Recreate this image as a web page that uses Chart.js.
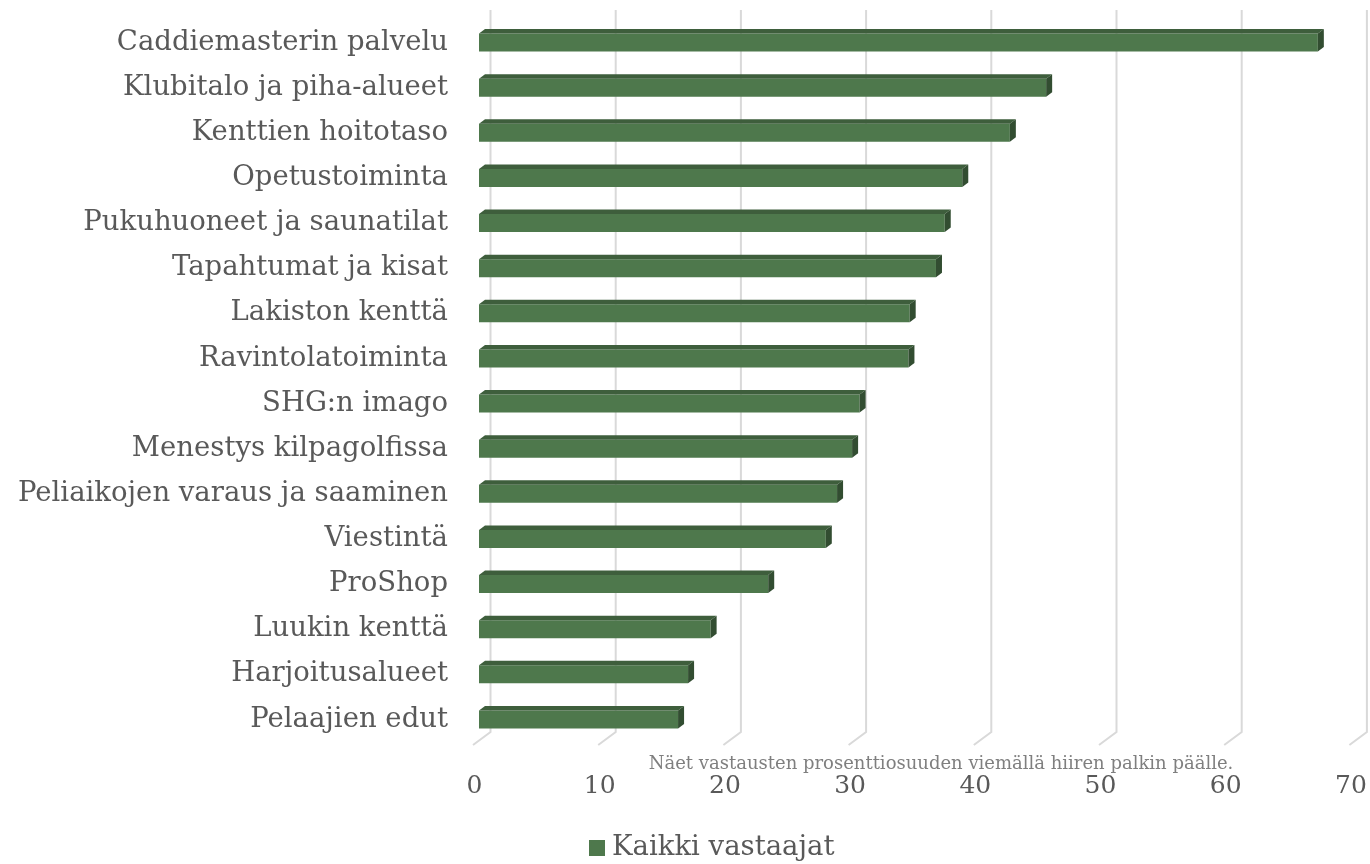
<!DOCTYPE html>
<html lang="fi">
<head>
<meta charset="utf-8">
<title>Kaikki vastaajat</title>
<script src="https://cdn.jsdelivr.net/npm/chart.js@4.4.1/dist/chart.umd.min.js"></script>
<style>
  html, body { margin: 0; padding: 0; background: #ffffff; }
  #wrap { width: 1370px; height: 864px; }
</style>
</head>
<body>
<div id="wrap"><canvas id="chart" width="1370" height="864"></canvas></div>
<script>
// Kategoriat ja arvot (luettu kuvasta)
const categories = [
    'Caddiemasterin palvelu',
    'Klubitalo ja piha-alueet',
    'Kenttien hoitotaso',
    'Opetustoiminta',
    'Pukuhuoneet ja saunatilat',
    'Tapahtumat ja kisat',
    'Lakiston kenttä',
    'Ravintolatoiminta',
    'SHG:n imago',
    'Menestys kilpagolfissa',
    'Peliaikojen varaus ja saaminen',
    'Viestintä',
    'ProShop',
    'Luukin kenttä',
    'Harjoitusalueet',
    'Pelaajien edut'
];
const values = [67.0, 45.3, 42.4, 38.6, 37.2, 36.5, 34.4, 34.3, 30.4, 29.8, 28.6, 27.7, 23.1, 18.5, 16.7, 15.9];
const seriesLabel = 'Kaikki vastaajat';
const xTicks = [0, 10, 20, 30, 40, 50, 60, 70];
const noteText = 'Näet vastausten prosenttiosuuden viemällä hiiren palkin päälle.';

const FONT = "'DejaVu Serif', Georgia, serif";
const TEXT_COLOR = '#595959';
const FRONT = '#4e784c';
const TOP = '#3e5e3c';
const SIDE = '#324d31';
const GRID = '#d9d9d9';

// Pseudo-3D: taustaseinän ruudukko + lattian viisto
const gridPlugin = {
    id: 'grid3d',
    beforeDatasetsDraw(chart) {
        const { ctx, chartArea, scales } = chart;
        ctx.save();
        ctx.strokeStyle = GRID;
        ctx.lineWidth = 2;
        xTicks.forEach(v => {
            const px = scales.x.getPixelForValue(v);
            ctx.beginPath();
            ctx.moveTo(px + 11.5, chartArea.top - 10);
            ctx.lineTo(px + 11.5, chartArea.bottom - 10);
            ctx.lineTo(px - 6, chartArea.bottom + 3);
            ctx.stroke();
        });
        ctx.restore();
    }
};

// Palkkien ylä- ja sivupinnat
const barFacesPlugin = {
    id: 'barFaces',
    afterDatasetsDraw(chart) {
        const { ctx } = chart;
        const meta = chart.getDatasetMeta(0);
        const dx = 6, dy = 4.5;
        ctx.save();
        meta.data.forEach(bar => {
            const p = bar.getProps(['x', 'y', 'base', 'height'], true);
            const top = p.y - p.height / 2;
            const bottom = p.y + p.height / 2;
            // yläpinta
            ctx.fillStyle = TOP;
            ctx.beginPath();
            ctx.moveTo(p.base, top);
            ctx.lineTo(p.base + dx, top - dy);
            ctx.lineTo(p.x + dx, top - dy);
            ctx.lineTo(p.x, top);
            ctx.closePath();
            ctx.fill();
            // sivupinta
            ctx.fillStyle = SIDE;
            ctx.beginPath();
            ctx.moveTo(p.x, top);
            ctx.lineTo(p.x + dx, top - dy);
            ctx.lineTo(p.x + dx, bottom - dy);
            ctx.lineTo(p.x, bottom);
            ctx.closePath();
            ctx.fill();
        });
        ctx.restore();
    },
    afterDraw(chart) {
        const { ctx } = chart;
        ctx.save();
        // huomautusteksti
        ctx.fillStyle = '#7f7f7f';
        ctx.font = '18px ' + FONT;
        ctx.textAlign = 'center';
        ctx.textBaseline = 'alphabetic';
        ctx.fillText(noteText, 941, 769);
        // selite
        ctx.fillStyle = FRONT;
        ctx.fillRect(589, 840, 16, 16);
        ctx.fillStyle = TEXT_COLOR;
        ctx.font = '27.5px ' + FONT;
        ctx.textAlign = 'left';
        ctx.textBaseline = 'middle';
        ctx.fillText(seriesLabel, 612, 848);
        ctx.restore();
    }
};

const ctx = document.getElementById('chart').getContext('2d');
new Chart(ctx, {
    type: 'bar',
    data: {
        labels: categories,
        datasets: [
            {
                label: seriesLabel,
                data: values,
                backgroundColor: FRONT,
                borderWidth: 0,
                categoryPercentage: 1,
                barPercentage: 0.4
            }
        ]
    },
    options: {
        indexAxis: 'y',
        responsive: false,
        animation: false,
        layout: {
            padding: { top: 20, right: 14.6, bottom: 0, left: 0 }
        },
        scales: {
            x: {
                min: 0,
                max: 70,
                grid: { display: false, drawTicks: false },
                border: { display: false },
                ticks: {
                    stepSize: 10,
                    color: TEXT_COLOR,
                    padding: 29,
                    labelOffset: -4.5,
                    font: { family: FONT, size: 25 }
                },
                afterFit(scale) {
                    scale.height = 122;
                    scale.paddingLeft = 0;
                    scale.paddingRight = 0;
                }
            },
            y: {
                grid: { display: false, drawTicks: false },
                border: { display: false },
                ticks: {
                    color: TEXT_COLOR,
                    padding: 31,
                    font: { family: FONT, size: 27.5 }
                },
                afterFit(scale) {
                    scale.width = 479;
                    scale.paddingTop = 0;
                    scale.paddingBottom = 0;
                }
            }
        },
        plugins: {
            legend: { display: false },
            tooltip: {
                callbacks: {
                    label: function(context) {
                        return context.dataset.label + ': ' +
                            context.parsed.x.toLocaleString('fi-FI', { maximumFractionDigits: 1 }) + ' %';
                    }
                }
            }
        }
    },
    plugins: [gridPlugin, barFacesPlugin]
});
</script>
</body>
</html>
